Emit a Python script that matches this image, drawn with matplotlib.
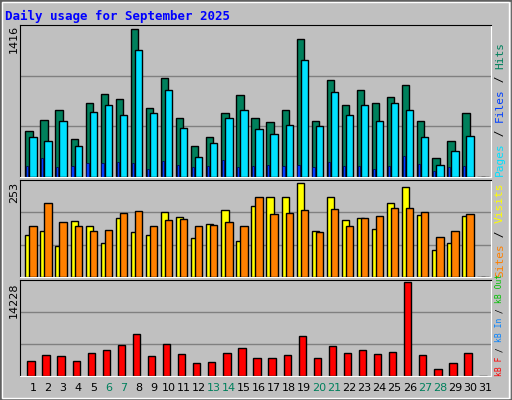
import matplotlib
matplotlib.use("Agg")
import matplotlib.pyplot as plt
from matplotlib.patches import Rectangle

days = list(range(1, 32))
hits = [446,552,639,369,706,802,745,1418,658,947,571,302,388,619,783,562,533,648,1322,542,927,696,831,706,773,879,542,186,350,610,0]
files = [388,350,542,302,629,687,600,1216,610,831,475,196,331,562,648,465,417,504,1120,494,821,600,696,542,706,648,388,119,254,398,0]
pages = [103,186,93,103,138,138,148,138,80,157,119,93,103,167,93,103,119,103,119,93,148,103,103,80,109,205,128,61,93,103,0]
visits = [113,124,85,151,138,91,160,121,113,176,162,105,143,182,96,193,215,217,253,124,215,154,160,129,201,242,168,74,91,165,0]
sites = [138,201,149,138,124,127,173,179,138,154,157,138,140,149,138,217,171,173,182,121,184,138,160,165,187,187,176,107,124,171,0]
kbytes = [2225,3156,3001,2225,3467,3932,4708,6416,3001,4864,3311,1914,2070,3467,4243,2690,2690,3156,6105,2690,4553,3467,3932,3311,3622,14228,3156,1138,1914,3467,0]
weekends = [6, 7, 13, 14, 20, 21, 27, 28]
max_labels = ["1416", "253", "14228"]

W, H = 512, 400
fig = plt.figure(figsize=(W/100, H/100), dpi=100, facecolor="#C0C0C0")
fig.patches.append(Rectangle((0, 0), 1, 1, transform=fig.transFigure, fill=False, ec="#606060", lw=2))
fig.patches.append(Rectangle((0.004, 0.005), 0.99, 0.99, transform=fig.transFigure, fill=False, ec="white", lw=1))

def ax_px(x0, y0, x1, y1):
    return fig.add_axes([x0/W, 1-y1/H, (x1-x0)/W, (y1-y0)/H])

XL = (0.135, 31.39)
BW = 7.3/15.07

def style(ax, top):
    ax.set_facecolor("#C0C0C0")
    ax.set_xlim(*XL)
    ax.set_ylim(0, top)
    ax.set_xticks([]); ax.set_yticks([])
    for t in (top/3, 2*top/3):
        ax.axhline(t, color="#808080", lw=1, zorder=0)
    for s in ax.spines.values():
        s.set_color("black")
    ax.spines["bottom"].set_color("white"); ax.spines["right"].set_color("white")

d = [x for x in days]
ax1 = ax_px(20, 25, 491, 177)
style(ax1, 1460)
ax1.bar([x - 7.7/15.07 for x in d], hits, width=BW, align="edge", color="#00805C", ec="black", lw=1, zorder=2)
ax1.bar([x - 3.7/15.07 for x in d], files, width=BW, align="edge", color="#00E0FF", ec="black", lw=1, zorder=3)
ax1.bar([x - 6.9/15.07 for x in d], pages, width=2.2/15.07, align="edge", color="#0040FF", ec="#000040", lw=0.5, zorder=4)

ax2 = ax_px(20, 180, 491, 277)
style(ax2, 262)
ax2.bar([x - 7.7/15.07 for x in d], visits, width=BW, align="edge", color="#FFFF00", ec="black", lw=1, zorder=2)
ax2.bar([x - 3.7/15.07 for x in d], sites, width=BW, align="edge", color="#FF8000", ec="black", lw=1, zorder=3)

ax3 = ax_px(20, 280, 491, 376)
style(ax3, 14590)
ax3.bar([x - 5.7/15.07 for x in d], kbytes, width=BW, align="edge", color="#FF0000", ec="black", lw=1, zorder=2)

fs = 8
fig.text(5/W, 1-16/H, "Daily usage for September 2025", color="#0000FF", fontsize=9,
         family="DejaVu Sans Mono", fontweight="bold", va="center")
for i, day in enumerate(days):
    x = (17.9 + day*15.07)/W
    fig.text(x, 1-388/H, str(day), fontsize=fs, ha="center", va="center",
             color="#00805C" if day in weekends else "black")
for lab, y in zip(max_labels, [25, 182, 282]):
    fig.text(14/W, 1-y/H, lab, rotation=90, fontsize=fs, ha="center", va="top")

def right_label(parts, ybottom, size):
    y = ybottom
    step = 0.602 * size * 100 / 72
    for txt, col in parts:
        fig.text(500/W, 1-y/H, txt, rotation=90, fontsize=size, family="DejaVu Sans Mono",
                 color=col, ha="center", va="bottom")
        y -= len(txt) * step
right_label([("Pages", "#00E0FF"), (" / ", "#000000"), ("Files", "#0040FF"), (" / ", "#000000"), ("Hits", "#00805C")], 176, 8)
right_label([("Sites", "#FF8000"), (" / ", "#000000"), ("Visits", "#FFFF00")], 277, 8)
right_label([("kB F", "#FF0000"), (" / ", "#000000"), ("kB In", "#0080FF"), (" / ", "#000000"), ("kB Out", "#00C000")], 376, 5.8)

fig.savefig("out.png", dpi=100, facecolor=fig.get_facecolor())
